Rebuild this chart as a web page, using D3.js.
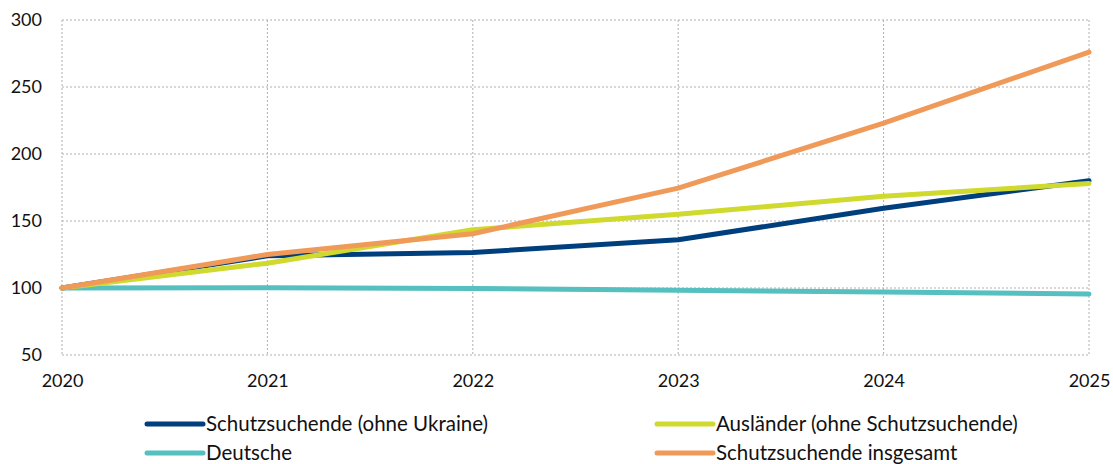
<html>
<head>
<style>
  body { margin: 0; background: #fff; }
  text { font-family: "Source Sans Pro", Lato, "Noto Sans", sans-serif; fill: #111; }
</style>
<script src="https://d3js.org/d3.v7.min.js"></script>
</head>
<body>
<svg width="1113" height="464"></svg>
<script>
// data
var years = [2020, 2021, 2022, 2023, 2024, 2025];
var yTicks = [50, 100, 150, 200, 250, 300];
var schutzOhneUkraine = [100, 124, 126.5, 136, 159.5, 180];
var auslaender = [100, 118.5, 143.5, 155, 168.5, 178];
var deutsche = [100, 100.2, 99.7, 98.4, 97, 95.5];
var schutzGesamt = [100, 125, 140.5, 174.5, 223, 276];

var seriesNames = ["Schutzsuchende (ohne Ukraine)", "Ausländer (ohne Schutzsuchende)", "Deutsche", "Schutzsuchende insgesamt"];
var seriesValues = [schutzOhneUkraine, auslaender, deutsche, schutzGesamt];
var seriesColors = ["#003f7d", "#cfd92e", "#56bfbf", "#f09a5a"];
var drawOrder = [2, 0, 1, 3];

var svg = d3.select("svg");
var plotLeft = 62, plotRight = 1089, plotTop = 20, plotBottom = 355;

var x = d3.scaleLinear().domain([2020, 2025]).range([plotLeft, plotRight]);
var y = d3.scaleLinear().domain([50, 300]).range([plotBottom, plotTop]);

// grid
var grid = svg.append("g");
grid.selectAll(".h").data(yTicks).enter().append("line")
  .attr("x1", plotLeft).attr("x2", plotRight)
  .attr("y1", function(d) { return y(d); }).attr("y2", function(d) { return y(d); })
  .attr("stroke", "#b0b0b0").attr("stroke-dasharray", "2,2").attr("stroke-width", 1);
grid.selectAll(".v").data(years).enter().append("line")
  .attr("y1", plotTop).attr("y2", plotBottom)
  .attr("x1", function(d) { return x(d); }).attr("x2", function(d) { return x(d); })
  .attr("stroke", "#b0b0b0").attr("stroke-dasharray", "2,2").attr("stroke-width", 1);

// axes labels
var yAxis = svg.append("g")
  .attr("transform", "translate(" + plotLeft + ",0)")
  .call(d3.axisLeft(y).tickValues(yTicks).tickSize(0).tickPadding(20));
yAxis.select(".domain").remove();
yAxis.selectAll("text").attr("font-size", "18px").style("font-family", null).attr("fill", "#111");

var xAxis = svg.append("g")
  .attr("transform", "translate(0," + plotBottom + ")")
  .call(d3.axisBottom(x).tickValues(years).tickFormat(d3.format("d")).tickSize(0).tickPadding(19));
xAxis.select(".domain").remove();
xAxis.selectAll("text").attr("font-size", "18px").style("font-family", null).attr("fill", "#111");

// lines
var line = d3.line()
  .x(function(d, i) { return x(years[i]); })
  .y(function(d) { return y(d); });

drawOrder.forEach(function(k) {
  svg.append("path")
    .datum(seriesValues[k])
    .attr("d", line)
    .attr("fill", "none")
    .attr("stroke", seriesColors[k])
    .attr("stroke-width", 5)
    .attr("stroke-linecap", "round")
    .attr("stroke-linejoin", "round");
});

// legend
var legendPos = [[147, 424], [657, 424], [147, 453], [657, 453]];
seriesNames.forEach(function(name, k) {
  var p = legendPos[k];
  svg.append("line")
    .attr("x1", p[0]).attr("x2", p[0] + 56)
    .attr("y1", p[1]).attr("y2", p[1])
    .attr("stroke", seriesColors[k]).attr("stroke-width", 5).attr("stroke-linecap", "round");
  svg.append("text")
    .attr("x", p[0] + 59).attr("y", p[1] + 7)
    .attr("font-size", "20.5px")
    .text(name);
});
</script>
</body>
</html>
